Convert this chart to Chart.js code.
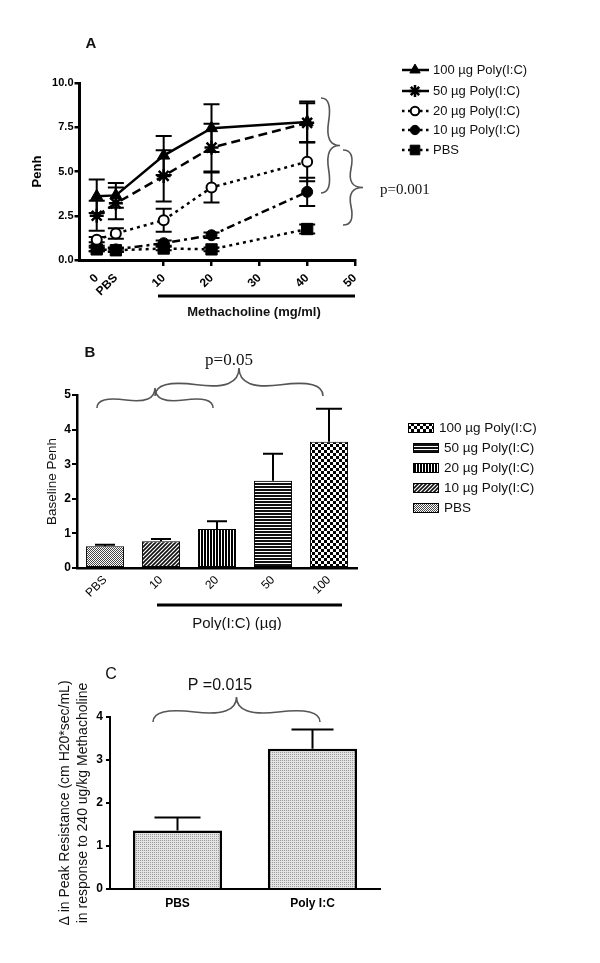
<!DOCTYPE html>
<html>
<head>
<meta charset="utf-8">
<script src="https://cdn.jsdelivr.net/npm/chart.js@4.4.1/dist/chart.umd.min.js"></script>
<style>
  body { margin: 0; background: #fff; width: 600px; height: 963px; overflow: hidden; position: relative; }
  canvas { position: absolute; left: 0; }
  #chartA { top: 0; }
  #chartB { top: 330px; }
  #chartC { top: 630px; }
</style>
</head>
<body>
<canvas id="chartA" width="600" height="330"></canvas>
<canvas id="chartB" width="600" height="300"></canvas>
<canvas id="chartC" width="600" height="333"></canvas>
<script>
// ---- data ----
// Panel A: Penh vs methacholine dose
const doseX = [-4, 0, 10, 20, 40];
const doseTickPos = [-4, 0, 10, 20, 30, 40, 50];
const doseTickText = ['0', 'PBS', '10', '20', '30', '40', '50'];
const seriesA = ['100 µg Poly(I:C)', '50 µg Poly(I:C)', '20 µg Poly(I:C)', '10 µg Poly(I:C)', 'PBS'];
const penh100 = [3.6, 3.65, 5.9, 7.45, 7.8];
const penh50 = [2.5, 3.2, 4.75, 6.35, 7.75];
const penh20 = [1.15, 1.5, 2.25, 4.1, 5.55];
const penh10 = [0.65, 0.6, 0.95, 1.4, 3.85];
const penhPBS = [0.6, 0.55, 0.65, 0.6, 1.75];
const err100 = [0.95, 0.7, 1.1, 1.35, 1.15];
const err50 = [0.85, 0.9, 1.45, 1.35, 1.1];
const err20 = [0.15, 0.3, 0.65, 0.85, 1.1];
const err10 = [0.15, 0.1, 0.15, 0.15, 0.8];
const errPBS = [0.1, 0.1, 0.1, 0.1, 0.25];

// Panel B: baseline Penh
const groupsB = ['PBS', '10', '20', '50', '100'];
const baselinePenh = [0.63, 0.77, 1.13, 2.52, 3.65];
const baselineErr = [0.04, 0.07, 0.22, 0.78, 0.95];
const legendB = ['100 µg Poly(I:C)', '50 µg Poly(I:C)', '20 µg Poly(I:C)', '10 µg Poly(I:C)', 'PBS'];

// Panel C: peak resistance
const groupsC = ['PBS', 'Poly I:C'];
const peakRes = [1.36, 3.26];
const peakErr = [0.3, 0.45];

const SANS = '"Liberation Sans", Arial, sans-serif';
const SERIF = '"Liberation Serif", "Times New Roman", serif';

// ---- helpers ----
function makePattern(w, h, draw) {
    const c = document.createElement('canvas');
    c.width = w; c.height = h;
    const g = c.getContext('2d');
    draw(g);
    return document.createElement('canvas').getContext('2d').createPattern(c, 'repeat');
}

const patPBS = makePattern(2, 2, g => {
    g.fillStyle = '#fff'; g.fillRect(0, 0, 2, 2);
    g.fillStyle = '#444'; g.fillRect(0, 0, 1, 1); g.fillRect(1, 1, 1, 1);
});
const patDiag = makePattern(4, 4, g => {
    g.fillStyle = '#fff'; g.fillRect(0, 0, 4, 4);
    g.strokeStyle = '#111'; g.lineWidth = 1.6;
    g.beginPath();
    g.moveTo(-1, 5); g.lineTo(5, -1);
    g.moveTo(-1, 1); g.lineTo(1, -1);
    g.moveTo(3, 5); g.lineTo(5, 3);
    g.stroke();
});
const patVert = makePattern(3, 3, g => {
    g.fillStyle = '#fff'; g.fillRect(0, 0, 3, 3);
    g.fillStyle = '#000'; g.fillRect(0, 0, 2, 3);
});
const patHorz = makePattern(3, 3, g => {
    g.fillStyle = '#fff'; g.fillRect(0, 0, 3, 3);
    g.fillStyle = '#111'; g.fillRect(0, 0, 3, 2);
});
const patCheck = makePattern(6, 6, g => {
    g.fillStyle = '#fff'; g.fillRect(0, 0, 6, 6);
    g.fillStyle = '#000'; g.fillRect(0, 0, 3, 3); g.fillRect(3, 3, 3, 3);
});
const patDots = makePattern(2, 2, g => {
    g.fillStyle = '#e4e4e4'; g.fillRect(0, 0, 2, 2);
    g.fillStyle = '#9a9a9a'; g.fillRect(0, 0, 1, 1);
});
const patternsB = [patPBS, patDiag, patVert, patHorz, patCheck];

// curly brace from (x1,y1) to (x2,y2), bulging w pixels to the left of the direction
function brace(ctx, x1, y1, x2, y2, w, q) {
    q = q || 0.6;
    let dx = x1 - x2, dy = y1 - y2;
    const len = Math.sqrt(dx * dx + dy * dy);
    dx /= len; dy /= len;
    const qx1 = x1 + q * w * dy, qy1 = y1 - q * w * dx;
    const qx2 = (x1 - 0.25 * len * dx) + (1 - q) * w * dy, qy2 = (y1 - 0.25 * len * dy) - (1 - q) * w * dx;
    const tx = (x1 - 0.5 * len * dx) + w * dy, ty = (y1 - 0.5 * len * dy) - w * dx;
    const qx3 = x2 + q * w * dy, qy3 = y2 - q * w * dx;
    const qx4 = (x1 - 0.75 * len * dx) + (1 - q) * w * dy, qy4 = (y1 - 0.75 * len * dy) - (1 - q) * w * dx;
    ctx.save();
    ctx.strokeStyle = '#555';
    ctx.lineWidth = 1.6;
    ctx.setLineDash([]);
    ctx.beginPath();
    ctx.moveTo(x1, y1);
    ctx.quadraticCurveTo(qx1, qy1, qx2, qy2);
    ctx.quadraticCurveTo(2 * qx2 - qx1, 2 * qy2 - qy1, tx, ty);
    ctx.moveTo(x2, y2);
    ctx.quadraticCurveTo(qx3, qy3, qx4, qy4);
    ctx.quadraticCurveTo(2 * qx4 - qx3, 2 * qy4 - qy3, tx, ty);
    ctx.stroke();
    ctx.restore();
}

function text(ctx, str, x, y, font, align) {
    ctx.save();
    ctx.fillStyle = '#111';
    ctx.font = font;
    ctx.textAlign = align || 'center';
    ctx.textBaseline = 'middle';
    ctx.fillText(str, x, y);
    ctx.restore();
}

function hline(ctx, x1, x2, y, w) {
    ctx.save();
    ctx.strokeStyle = '#000';
    ctx.lineWidth = w;
    ctx.beginPath(); ctx.moveTo(x1, y); ctx.lineTo(x2, y); ctx.stroke();
    ctx.restore();
}

// error bars drawn through the chart's own y scale
const errorBarPlugin = {
    id: 'errorBars',
    beforeDatasetsDraw(chart, args, opts) { if (opts.before) drawErrors(chart, opts); },
    afterDatasetsDraw(chart, args, opts) { if (!opts.before) drawErrors(chart, opts); }
};
function drawErrors(chart, opts) {
    const ctx = chart.ctx, yScale = chart.scales.y;
    ctx.save();
    ctx.strokeStyle = '#000';
    ctx.lineWidth = opts.lineWidth;
    ctx.setLineDash([]);
    chart.data.datasets.forEach((ds, i) => {
        const errs = opts.errors[i];
        if (!errs) return;
        chart.getDatasetMeta(i).data.forEach((el, j) => {
            const raw = ds.data[j];
            const v = typeof raw === 'object' ? raw.y : raw;
            const x = el.x;
            const top = yScale.getPixelForValue(v + errs[j]);
            const bot = opts.upOnly ? el.y : yScale.getPixelForValue(v - errs[j]);
            const cap = Array.isArray(opts.cap) ? opts.cap[j] : opts.cap;
            ctx.beginPath();
            ctx.moveTo(x, top); ctx.lineTo(x, bot);
            ctx.moveTo(x - cap, top); ctx.lineTo(x + cap, top);
            if (!opts.upOnly) { ctx.moveTo(x - cap, bot); ctx.lineTo(x + cap, bot); }
            ctx.stroke();
        });
    });
    ctx.restore();
}

// ---- Panel A ----
function lineSet(label, values, dash, style, radius, fill, pbw) {
    return {
        label: label,
        data: doseX.map((x, i) => ({ x: x, y: values[i] })),
        borderColor: '#000',
        borderWidth: 2.5,
        borderDash: dash,
        pointStyle: style,
        pointRadius: radius,
        pointBackgroundColor: fill,
        pointBorderColor: '#000',
        pointBorderWidth: pbw,
        tension: 0,
        fill: false
    };
}

const decorA = {
    id: 'decorA',
    afterDraw(chart) {
        const ctx = chart.ctx;
        text(ctx, 'A', 91, 44, 'bold 15px ' + SANS);
        // legend
        const rows = [70, 91, 111, 130, 150];
        chart.data.datasets.forEach((d, i) => {
            const y = rows[i];
            ctx.save();
            ctx.strokeStyle = '#000';
            ctx.lineWidth = 2.5;
            ctx.setLineDash(i < 2 ? [] : [2.5, 3.5]);
            ctx.beginPath(); ctx.moveTo(402, y); ctx.lineTo(429, y); ctx.stroke();
            ctx.setLineDash([]);
            ctx.fillStyle = d.pointBackgroundColor;
            ctx.strokeStyle = '#000';
            ctx.lineWidth = d.pointBorderWidth;
            Chart.helpers.drawPoint(ctx, {
                pointStyle: d.pointStyle, radius: d.pointRadius * 0.85, rotation: 0, borderWidth: d.pointBorderWidth
            }, 415, y);
            ctx.restore();
            text(ctx, d.label, 433, y, '13px ' + SANS, 'left');
        });
        brace(ctx, 321, 193, 321, 98, 19);
        brace(ctx, 343, 225, 343, 150, 20);
        text(ctx, 'p=0.001', 380, 190, '15px ' + SERIF, 'left');
        hline(ctx, 158, 355, 296, 3);
        text(ctx, 'Methacholine (mg/ml)', 254, 312, 'bold 13px ' + SANS);
    }
};

new Chart(document.getElementById('chartA'), {
    type: 'line',
    data: {
        datasets: [
            lineSet(seriesA[0], penh100, [], 'triangle', 7, '#000', 1),
            lineSet(seriesA[1], penh50, [9, 5], 'star', 7, '#000', 2.5),
            lineSet(seriesA[2], penh20, [3, 4], 'circle', 5, '#fff', 2),
            lineSet(seriesA[3], penh10, [8, 4, 3, 4], 'circle', 5.5, '#000', 1),
            lineSet(seriesA[4], penhPBS, [3, 4], 'rect', 8, '#000', 1)
        ]
    },
    options: {
        responsive: false,
        animation: false,
        layout: { padding: { left: 30, right: 245, top: 83, bottom: 0 } },
        plugins: {
            legend: { display: false },
            tooltip: { enabled: false },
            errorBars: { errors: [err100, err50, err20, err10, errPBS], cap: 8, lineWidth: 2, before: true }
        },
        scales: {
            x: {
                type: 'linear',
                min: -7.6,
                max: 50,
                afterFit: s => { s.height = 70; },
                afterBuildTicks: s => { s.ticks = doseTickPos.map(v => ({ value: v })); },
                border: { display: true, color: '#000', width: 3 },
                grid: {
                    display: true, drawOnChartArea: false, drawTicks: true, tickLength: 6, lineWidth: 2.5,
                    color: c => (c.tick && c.tick.value < 5) ? 'rgba(0,0,0,0)' : '#000'
                },
                ticks: {
                    autoSkip: false, minRotation: 45, maxRotation: 45, padding: 5,
                    color: '#000', font: { family: SANS, size: 12, weight: 'bold' },
                    callback: (v, i) => doseTickText[i]
                }
            },
            y: {
                min: 0,
                max: 10,
                afterFit: s => { s.width = 49.5; },
                border: { display: true, color: '#000', width: 3 },
                grid: { display: true, drawOnChartArea: false, drawTicks: true, tickLength: 5, lineWidth: 2.5, color: '#000' },
                ticks: {
                    stepSize: 2.5, padding: 1, color: '#000',
                    font: { family: SANS, size: 11, weight: 'bold' },
                    callback: v => v.toFixed(1)
                },
                title: {
                    display: true, text: 'Penh', color: '#000', padding: 0,
                    font: { family: SANS, size: 13, weight: 'bold', lineHeight: 1.2 }
                }
            }
        }
    },
    plugins: [errorBarPlugin, decorA]
});

// ---- Panel B ----
const decorB = {
    id: 'decorB',
    afterDraw(chart) {
        const ctx = chart.ctx;
        text(ctx, 'B', 90, 23, 'bold 15px ' + SANS);
        text(ctx, 'p=0.05', 229, 31, '17px ' + SERIF);
        brace(ctx, 323, 66, 155, 66, 28);
        brace(ctx, 213, 78, 97, 78, 20);
        const rows = [98, 118, 138, 158, 178];
        const swX = [408, 413, 413, 413, 413];
        legendB.forEach((lab, i) => {
            const pat = patternsB[patternsB.length - 1 - i];
            ctx.save();
            ctx.fillStyle = pat;
            ctx.fillRect(swX[i], rows[i] - 5, 26, 10);
            ctx.strokeStyle = '#000';
            ctx.lineWidth = 1;
            ctx.strokeRect(swX[i] + 0.5, rows[i] - 5 + 0.5, 25, 9);
            ctx.restore();
            text(ctx, lab, swX[i] + 31, rows[i], '13.5px ' + SANS, 'left');
        });
        hline(ctx, 157, 342, 275, 3);
        text(ctx, 'Poly(I:C) (µg)', 237, 294, '15px ' + SANS);
    }
};

new Chart(document.getElementById('chartB'), {
    type: 'bar',
    data: {
        labels: groupsB,
        datasets: [{
            label: 'Baseline Penh',
            data: baselinePenh,
            backgroundColor: patternsB,
            borderColor: '#000',
            borderWidth: 1,
            borderSkipped: false,
            barPercentage: 0.68,
            categoryPercentage: 1
        }]
    },
    options: {
        responsive: false,
        animation: false,
        layout: { padding: { left: 44, right: 243, top: 65, bottom: 0 } },
        plugins: {
            legend: { display: false },
            tooltip: { enabled: false },
            errorBars: { errors: [baselineErr], cap: [10, 10, 10, 10, 13], lineWidth: 2, upOnly: true }
        },
        scales: {
            x: {
                afterFit: s => { s.height = 62; },
                border: { display: true, color: '#000', width: 2.5 },
                grid: { display: false, drawTicks: false },
                ticks: {
                    autoSkip: false, minRotation: 45, maxRotation: 45, padding: 5,
                    color: '#000', font: { family: SANS, size: 12 }
                }
            },
            y: {
                min: 0,
                max: 5,
                afterFit: s => { s.width = 33; },
                border: { display: true, color: '#000', width: 2.5 },
                grid: { display: true, drawOnChartArea: false, drawTicks: true, tickLength: 5, lineWidth: 2, color: '#000' },
                ticks: { stepSize: 1, padding: 1, color: '#000', font: { family: SANS, size: 12, weight: 'bold' } },
                title: {
                    display: true, text: 'Baseline Penh', color: '#111', padding: 0,
                    font: { family: SANS, size: 13.5, lineHeight: 1.2 }
                }
            }
        }
    },
    plugins: [errorBarPlugin, decorB]
});

// ---- Panel C ----
const decorC = {
    id: 'decorC',
    afterDraw(chart) {
        const ctx = chart.ctx;
        text(ctx, 'C', 111, 45, '16px ' + SANS);
        text(ctx, 'P =0.015', 220, 56, '16px ' + SANS);
        brace(ctx, 320, 92, 153, 92, 25);
    }
};

new Chart(document.getElementById('chartC'), {
    type: 'bar',
    data: {
        labels: groupsC,
        datasets: [{
            label: 'Peak Resistance',
            data: peakRes,
            backgroundColor: patDots,
            borderColor: '#000',
            borderWidth: 2.5,
            borderSkipped: 'bottom',
            barPercentage: 0.66,
            categoryPercentage: 1
        }]
    },
    options: {
        responsive: false,
        animation: false,
        layout: { padding: { left: 56, right: 220, top: 87, bottom: 0 } },
        plugins: {
            legend: { display: false },
            tooltip: { enabled: false },
            errorBars: { errors: [peakErr], cap: [23, 21], lineWidth: 2, upOnly: true }
        },
        scales: {
            x: {
                afterFit: s => { s.height = 74; },
                border: { display: true, color: '#000', width: 2 },
                grid: { display: false, drawTicks: false },
                ticks: { padding: 7, color: '#000', font: { family: SANS, size: 12, weight: 'bold' } }
            },
            y: {
                min: 0,
                max: 4,
                afterFit: s => { s.width = 54; },
                border: { display: true, color: '#000', width: 2 },
                grid: { display: true, drawOnChartArea: false, drawTicks: true, tickLength: 4, lineWidth: 2, color: '#000' },
                ticks: { stepSize: 1, padding: 3, color: '#000', font: { family: SANS, size: 12, weight: 'bold' } },
                title: {
                    display: true,
                    text: ['Δ in Peak Resistance (cm H20*sec/mL)', 'in response to 240 ug/kg Methacholine'],
                    color: '#111', padding: 0,
                    font: { family: SANS, size: 14, lineHeight: 1.3 }
                }
            }
        }
    },
    plugins: [errorBarPlugin, decorC]
});
</script>
</body>
</html>
